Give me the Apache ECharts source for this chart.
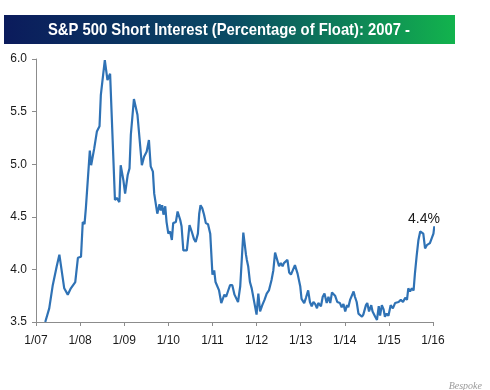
<!DOCTYPE html>
<html>
<head>
<meta charset="utf-8">
<script src="https://cdn.jsdelivr.net/npm/echarts@6/dist/echarts.min.js"></script>
<style>html,body{margin:0;padding:0;background:#fff;}#c{width:490px;height:390px;}</style>
</head>
<body>
<div id="c"></div>
<script>
const titleText = 'S&P 500 Short Interest (Percentage of Float): 2007 -';
const xTickLabels = ['1/07','1/08','1/09','1/10','1/11','1/12','1/13','1/14','1/15','1/16'];
const yTicks = [3.5, 4.0, 4.5, 5.0, 5.5, 6.0];
const dates = [
 2007.21,2007.30,2007.38,2007.47,2007.53,2007.64,2007.72,2007.79,2007.89,2007.95,
 2008.02,2008.06,2008.10,2008.13,2008.22,2008.25,2008.32,2008.38,2008.44,2008.47,
 2008.56,2008.62,2008.68,2008.72,2008.79,2008.83,2008.89,2008.92,2008.98,
 2009.02,2009.08,2009.12,2009.15,2009.22,2009.30,2009.40,2009.45,2009.51,2009.56,
 2009.60,2009.65,2009.68,2009.71,2009.75,2009.80,2009.83,2009.86,2009.89,2009.93,2009.96,
 2010.00,2010.04,2010.08,2010.11,2010.17,2010.21,2010.27,2010.30,2010.34,2010.42,
 2010.48,2010.53,2010.58,2010.62,2010.67,2010.70,2010.73,2010.77,2010.81,2010.85,2010.90,2010.95,
 2011.00,2011.04,2011.07,2011.11,2011.15,2011.20,2011.23,2011.27,2011.31,2011.35,
 2011.40,2011.45,2011.50,2011.54,2011.58,2011.63,2011.70,2011.76,2011.78,2011.81,2011.85,2011.89,2011.93,
 2012.00,2012.04,2012.08,2012.13,2012.18,2012.23,2012.28,2012.34,2012.38,2012.42,2012.46,
 2012.51,2012.55,2012.59,2012.62,2012.66,2012.70,2012.74,2012.78,2012.82,2012.87,2012.93,2012.99,
 2013.02,2013.08,2013.12,2013.17,2013.21,2013.25,2013.29,2013.33,2013.37,2013.40,2013.46,
 2013.50,2013.54,2013.59,2013.63,2013.67,2013.71,2013.74,2013.78,2013.83,2013.89,2013.93,2013.97,
 2014.01,2014.05,2014.08,2014.12,2014.16,2014.20,2014.23,2014.27,2014.31,2014.35,2014.39,2014.42,
 2014.48,2014.51,2014.55,2014.60,2014.63,2014.69,2014.73,2014.77,2014.80,2014.84,2014.88,2014.91,2014.95,2014.99,
 2015.04,2015.09,2015.14,2015.22,2015.27,2015.32,2015.37,2015.41,2015.44,2015.48,2015.52,2015.56,
 2015.59,2015.63,2015.67,2015.71,2015.75,2015.78,2015.82,2015.86,2015.90,2015.93,2015.97,2016.01,2016.03
];
const shortInterest = [
 3.50,3.63,3.85,4.03,4.14,3.82,3.76,3.82,3.88,4.11,
 4.12,4.45,4.43,4.58,5.13,4.99,5.15,5.31,5.36,5.66,
 5.99,5.80,5.86,5.85,4.66,4.68,4.64,4.99,4.85,
 4.72,4.90,4.96,5.28,5.62,5.47,4.99,5.07,5.12,5.23,
 4.98,4.93,4.72,4.71,4.53,4.62,4.56,4.61,4.52,4.60,4.45,
 4.34,4.36,4.28,4.44,4.45,4.55,4.47,4.41,4.18,4.18,
 4.42,4.36,4.29,4.26,4.34,4.53,4.61,4.58,4.52,4.44,4.43,4.34,
 3.95,3.99,3.88,3.88,3.80,3.68,3.67,3.76,3.74,3.79,
 3.85,3.85,3.76,3.76,3.69,3.84,4.35,4.14,4.09,4.03,3.88,3.82,3.82,
 3.57,3.77,3.60,3.66,3.71,3.77,3.80,3.90,3.99,4.16,4.15,
 4.03,4.06,4.03,4.06,4.06,4.09,3.97,3.95,3.96,4.04,3.96,3.84,
 3.72,3.68,3.73,3.80,3.69,3.65,3.69,3.67,3.63,3.68,3.65,
 3.74,3.77,3.68,3.74,3.68,3.78,3.78,3.75,3.69,3.68,3.64,3.67,
 3.60,3.66,3.64,3.71,3.71,3.79,3.74,3.69,3.58,3.57,3.55,3.57,
 3.66,3.68,3.60,3.66,3.60,3.55,3.52,3.65,3.56,3.66,3.62,3.55,3.58,3.56,
 3.66,3.63,3.68,3.69,3.71,3.69,3.73,3.71,3.82,3.79,3.82,3.80,
 3.96,4.13,4.28,4.36,4.37,4.34,4.20,4.23,4.22,4.25,4.26,4.34,4.41
];
const lastLabel = '4.4%';
const sourceText = 'Bespoke';

const seriesData = dates.map((d, i) => [d, shortInterest[i]]);
const lastValue = shortInterest[shortInterest.length - 1];
const xMax = 2016;

// horizontally compress the title (reference uses a narrow face)
const titleFont = 'bold 17px "Liberation Sans", Arial, sans-serif';
const mctx = document.createElement('canvas').getContext('2d');
mctx.font = titleFont;
const titleW = mctx.measureText(titleText).width;
const titleScale = Math.min(1, 362 / titleW);

const chart = echarts.init(document.getElementById('c'), null, {renderer: 'canvas'});
const axisGray = '#8c8c8c';
chart.setOption({
  animation: false,
  backgroundColor: '#ffffff',
  grid: {left: 36, right: 57, top: 59, bottom: 68, containLabel: false},
  xAxis: {
    type: 'value', min: 2007, max: xMax, interval: 1,
    axisLine: {show: true, lineStyle: {color: axisGray, width: 1}},
    axisTick: {show: true, length: 4, lineStyle: {color: axisGray}},
    splitLine: {show: false},
    axisLabel: {
      margin: 13, color: '#1a1a1a', fontSize: 12, fontFamily: 'Liberation Sans, Arial, sans-serif',
      formatter: v => xTickLabels[Math.round(v - 2007)] || ''
    }
  },
  yAxis: {
    type: 'value', min: yTicks[0], max: yTicks[yTicks.length - 1], interval: 0.5,
    axisLine: {show: true, lineStyle: {color: axisGray, width: 1}},
    axisTick: {show: true, length: 4, lineStyle: {color: axisGray}},
    splitLine: {show: false},
    axisLabel: {
      margin: 9, color: '#1a1a1a', fontSize: 12, fontFamily: 'Liberation Sans, Arial, sans-serif',
      formatter: v => v.toFixed(1)
    }
  },
  series: [{
    type: 'line', data: seriesData, showSymbol: false, symbol: 'none', clip: false,
    lineStyle: {color: '#2f72b5', width: 2.2},
    markPoint: {
      symbol: 'circle', symbolSize: 2,
      itemStyle: {color: 'rgba(0,0,0,0)'},
      data: [{coord: [xMax, lastValue], value: lastValue}],
      label: {show: true, position: 'top', distance: 0, offset: [-9, 1], formatter: lastLabel,
        color: '#1a1a1a', fontSize: 14, fontFamily: 'Liberation Sans, Arial, sans-serif'}
    }
  }],
  graphic: [
    {type: 'rect', shape: {x: 4, y: 15, width: 451, height: 29}, silent: true,
     style: {fill: new echarts.graphic.LinearGradient(0, 0, 1, 0, [
       {offset: 0, color: '#0b1b5c'}, {offset: 0.5, color: '#0a4a64'}, {offset: 1, color: '#12b34d'}])}},
    {type: 'text', x: 229, y: 30, scaleX: titleScale, silent: true,
     style: {text: titleText, fill: '#ffffff', align: 'center', verticalAlign: 'middle',
       font: titleFont}},
    {type: 'text', x: 482, y: 386, silent: true,
     style: {text: sourceText, fill: '#9a9a9a', align: 'right', verticalAlign: 'middle',
       font: 'italic 10px "Liberation Serif", serif'}}
  ]
});
</script>
</body>
</html>
